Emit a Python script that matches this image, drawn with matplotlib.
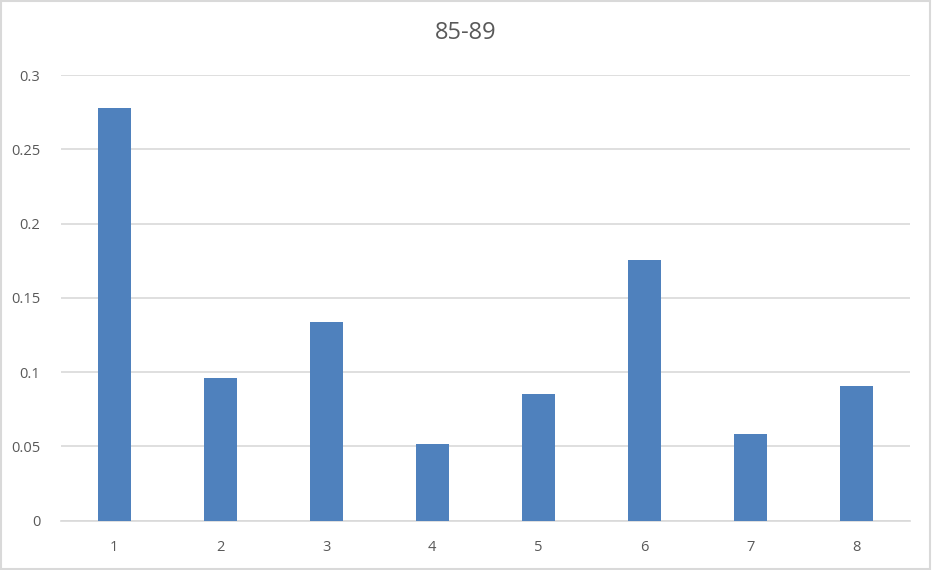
import matplotlib
matplotlib.use("Agg")
import matplotlib.pyplot as plt
from matplotlib.patches import Rectangle

# data
categories = ["1", "2", "3", "4", "5", "6", "7", "8"]
values = [0.2778, 0.0960, 0.1337, 0.0515, 0.0852, 0.1754, 0.0582, 0.0906]
yticks = [0, 0.05, 0.1, 0.15, 0.2, 0.25, 0.3]
ytick_labels = ["0", "0.05", "0.1", "0.15", "0.2", "0.25", "0.3"]
title = "85-89"

plt.rcParams["font.family"] = ["Open Sans", "DejaVu Sans"]
txt = "#595959"
grid = "#d9d9d9"

fig = plt.figure(figsize=(9.32, 5.70), dpi=100)
ax = fig.add_axes([0.0655, 0.0868, 0.9105, 0.7816])

x = list(range(len(categories)))
ax.bar(x, values, width=0.31, color="#4f81bd", zorder=3)

ax.set_xlim(-0.5, len(categories) - 0.5)
ax.set_ylim(0, 0.3)
ax.set_yticks(yticks)
ax.set_yticklabels(ytick_labels)
ax.set_xticks(x)
ax.set_xticklabels(categories)
ax.yaxis.grid(True, color=grid, linewidth=1.2, zorder=0)
ax.tick_params(axis="both", length=0, labelsize=10.5, colors=txt)
ax.tick_params(axis="y", pad=15)
ax.tick_params(axis="x", pad=14)
for s in ["top", "right", "left"]:
    ax.spines[s].set_visible(False)
ax.spines["bottom"].set_color(grid)
ax.spines["bottom"].set_linewidth(1.2)

fig.text(0.5, 1 - 33 / 570, title, ha="center", va="center", fontsize=17, color=txt)

# outer frame
fig.patches.append(Rectangle((0.001, 0.002), 0.997, 0.996, transform=fig.transFigure,
                             fill=False, edgecolor=grid, linewidth=1.5))

fig.savefig("out.png", dpi=100)
